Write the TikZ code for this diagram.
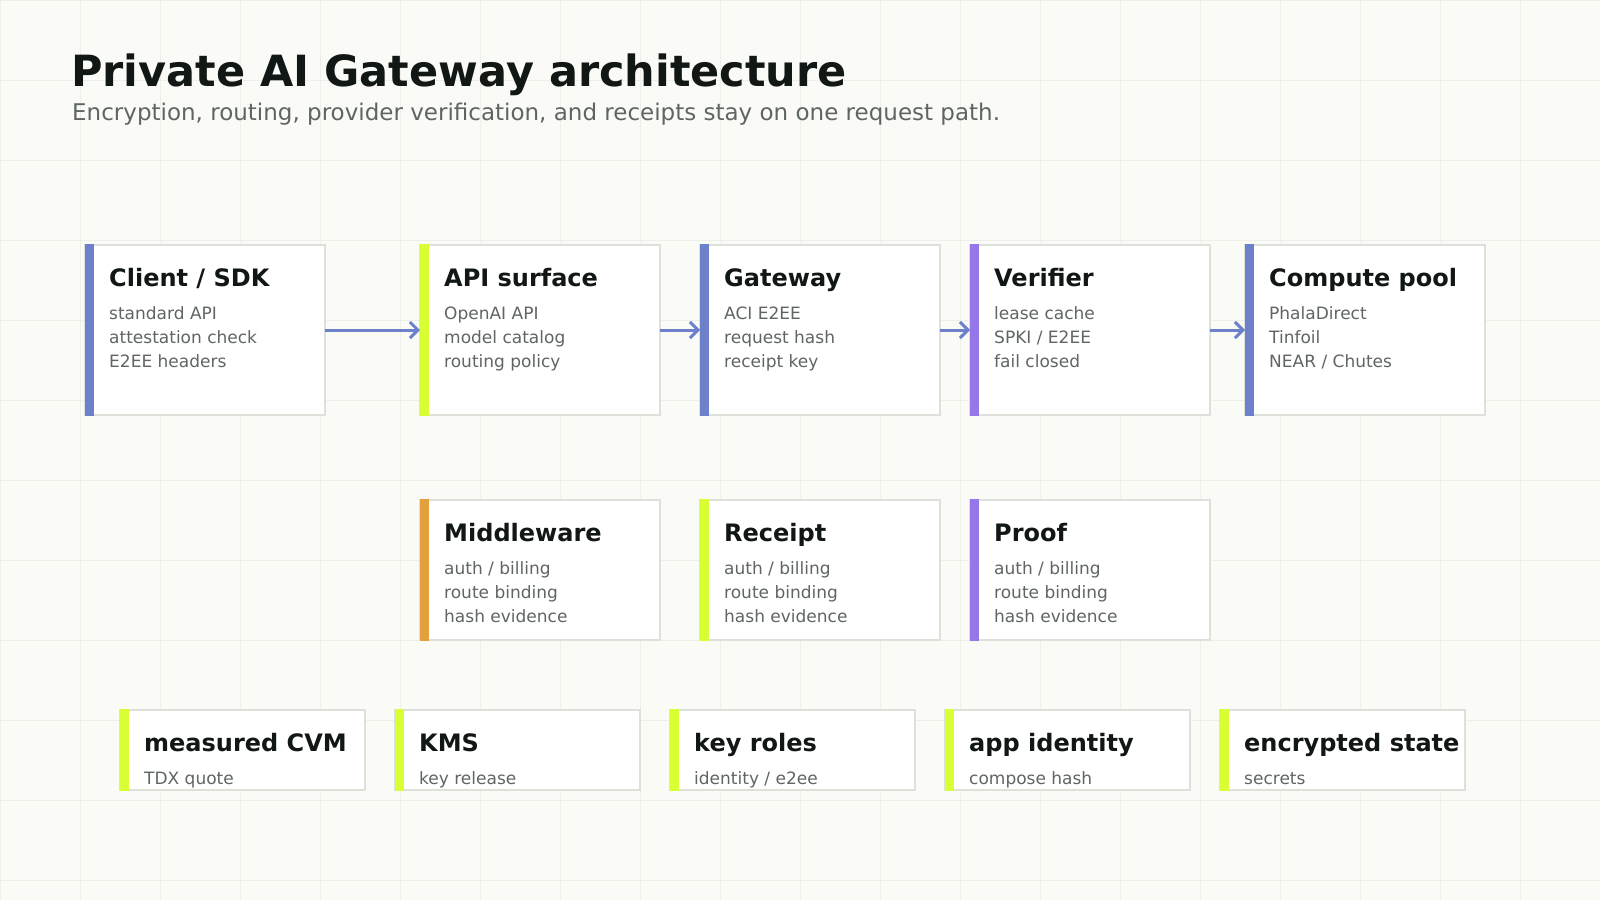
\documentclass[tikz,border=0pt]{standalone}
\usepackage{fontspec}
\setmainfont{DejaVu Sans}
\usetikzlibrary{arrows.meta}
\definecolor{bg}{HTML}{FAFBF7}
\definecolor{gridc}{HTML}{EDEFE9}
\definecolor{cardborder}{HTML}{DCE1DA}
\definecolor{ink}{HTML}{111714}
\definecolor{muted}{HTML}{5F6662}
\definecolor{accblue}{HTML}{6C80CC}
\definecolor{acclime}{HTML}{D8FF33}
\definecolor{accpurple}{HTML}{9577EA}
\definecolor{accorange}{HTML}{E3A03C}
\tikzset{
  card/.style={draw=cardborder, line width=2pt, fill=white, anchor=north west, inner sep=0, outer sep=0},
  cardtitle/.style={anchor=base west, inner sep=0, text=ink, font=\fontsize{24}{28}\selectfont\bfseries},
  cardbody/.style={anchor=base west, inner sep=0, text=muted, font=\fontsize{17}{20}\selectfont},
  flow/.style={draw=accblue, line width=3pt, -{Straight Barb[length=8pt,width=16pt,line width=3pt]}},
}
\newcommand\archbox[8]{%
  \node[card, minimum width=#4, minimum height=#5] (#1) at (#2,#3) {};
  \fill[#6] (#2,#3-1) rectangle (#2+9,#3+#5+1);
  \node[cardtitle] (#1-t) at (#2+24,#3+41.7) {#7};
  \foreach \t [count=\i] in {#8} {\node[cardbody] (#1-l\i) at (#2+24,#3+50.5+24*\i) {\t};}
}
\begin{document}
\begin{tikzpicture}[x=1pt,y=-1pt]
\fill[bg] (0,0) rectangle (1600,900);
\useasboundingbox (0,0) rectangle (1600,900);
\foreach \gx in {0,80,...,1600} \draw[gridc, line width=1pt] (\gx,0) -- (\gx,900);
\foreach \gy in {0,80,...,880} \draw[gridc, line width=1pt] (0,\gy) -- (1600,\gy);

\node[anchor=base west, inner sep=0, text=ink, font=\fontsize{43}{50}\selectfont\bfseries] (title) at (71,86) {Private AI Gateway architecture};
\node[anchor=base west, inner sep=0, text=muted, font=\fontsize{23}{27}\selectfont] (subtitle) at (72,120) {Encryption, routing, provider verification, and receipts stay on one request path.};

% top row
\archbox{client}{85}{245}{240}{170}{accblue}{Client / SDK}{standard API, attestation check, E2EE headers}
\archbox{api}{420}{245}{240}{170}{acclime}{API surface}{OpenAI API, model catalog, routing policy}
\archbox{gateway}{700}{245}{240}{170}{accblue}{Gateway}{ACI E2EE, request hash, receipt key}
\archbox{verifier}{970}{245}{240}{170}{accpurple}{Verifier}{lease cache, SPKI / E2EE, fail closed}
\archbox{compute}{1245}{245}{240}{170}{accblue}{Compute pool}{PhalaDirect, Tinfoil, NEAR / Chutes}

% middle row
\archbox{middleware}{420}{500}{240}{140}{accorange}{Middleware}{auth / billing, route binding, hash evidence}
\archbox{receipt}{700}{500}{240}{140}{acclime}{Receipt}{auth / billing, route binding, hash evidence}
\archbox{proof}{970}{500}{240}{140}{accpurple}{Proof}{auth / billing, route binding, hash evidence}

% bottom row
\archbox{cvm}{120}{710}{245}{80}{acclime}{measured CVM}{TDX quote}
\archbox{kms}{395}{710}{245}{80}{acclime}{KMS}{key release}
\archbox{roles}{670}{710}{245}{80}{acclime}{key roles}{identity / e2ee}
\archbox{appid}{945}{710}{245}{80}{acclime}{app identity}{compose hash}
\archbox{encstate}{1220}{710}{245}{80}{acclime}{encrypted state}{secrets}

% connectors
\draw[flow] (client.east) -- (api.west);
\draw[flow] (api.east) -- (gateway.west);
\draw[flow] (gateway.east) -- (verifier.west);
\draw[flow] (verifier.east) -- (compute.west);
\end{tikzpicture}
\end{document}
